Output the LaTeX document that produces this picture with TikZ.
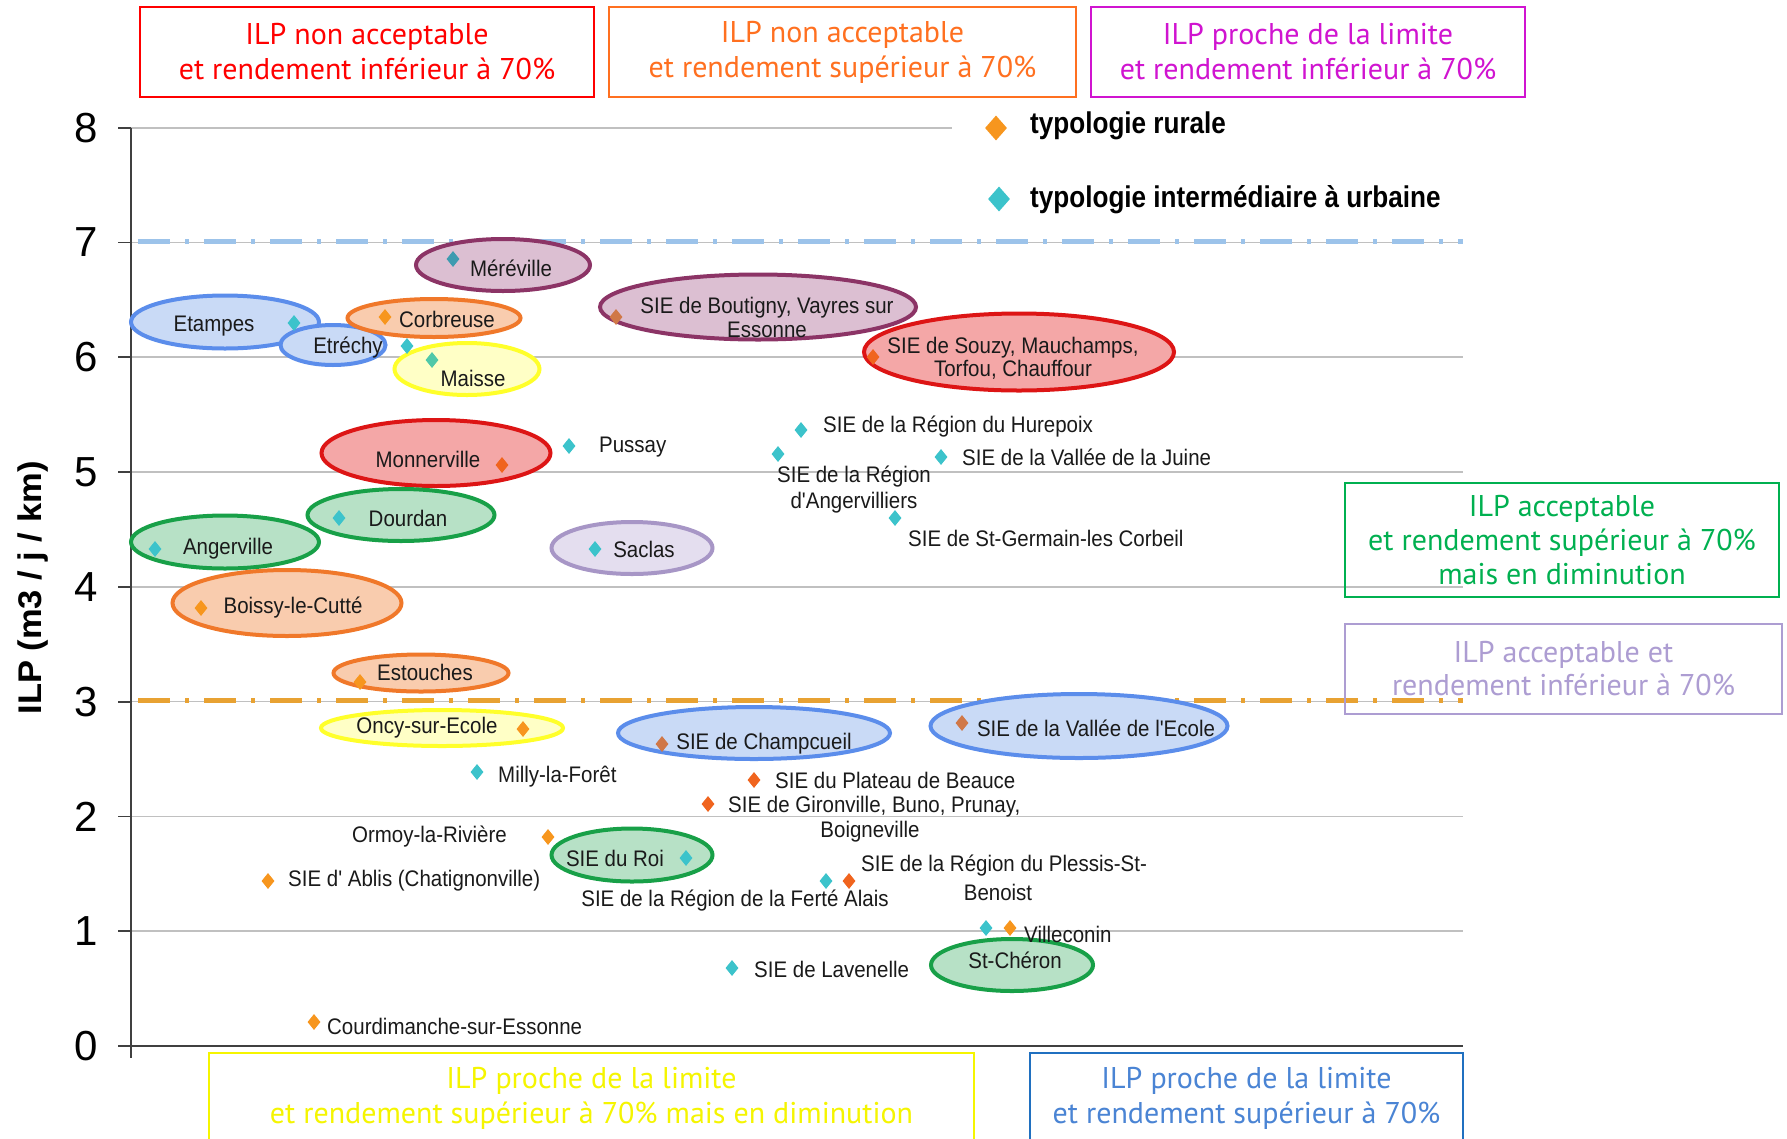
\documentclass[tikz,border=0pt]{standalone}
\usepackage{fontspec}
\setmainfont{Liberation Sans}
\newfontfamily\boxfont{PT Sans}
\newfontfamily\labfont{Liberation Sans}[FakeStretch=0.91]
\newfontfamily\legfont{Liberation Sans}[FakeStretch=0.87]
\usetikzlibrary{shapes.geometric}
\definecolor{gridc}{HTML}{C0C0C0}
\definecolor{axisc}{HTML}{404040}
\definecolor{labc}{HTML}{1A1A1A}
\definecolor{limblue}{HTML}{9CC3EA}
\definecolor{limorange}{HTML}{E8A232}
\definecolor{cRed}{HTML}{FF0000}
\definecolor{cOrange}{HTML}{FF7020}
\definecolor{cMag}{HTML}{D014D0}
\definecolor{cGreen}{HTML}{00B050}
\definecolor{cLav}{HTML}{AD9DD2}
\definecolor{cYel}{HTML}{F5F500}
\definecolor{cBlueT}{HTML}{4A84D4}
\definecolor{cBlueB}{HTML}{2070C0}
\definecolor{eBlueD}{HTML}{5B8DEB}\definecolor{eBlueL}{HTML}{C9DAF6}
\definecolor{eGreenD}{HTML}{18A048}\definecolor{eGreenL}{HTML}{B7E1C6}
\definecolor{eOrD}{HTML}{F0782A}\definecolor{eOrL}{HTML}{F9CCAE}
\definecolor{eRedD}{HTML}{DD1515}\definecolor{eRedL}{HTML}{F4A7A7}
\definecolor{ePlumD}{HTML}{8C3466}\definecolor{ePlumL}{HTML}{DCBFD2}
\definecolor{eYelD}{HTML}{FFFF2A}\definecolor{eYelL}{HTML}{FFFFC6}
\definecolor{eLavD}{HTML}{A796C6}\definecolor{eLavL}{HTML}{E4DEEF}
\definecolor{rural}{HTML}{F7961E}
\definecolor{ruralD}{HTML}{F0641E}
\definecolor{ruralB}{HTML}{D07848}
\definecolor{urban}{HTML}{3CC3CB}
\definecolor{urbanD}{HTML}{3E9BB0}
\definecolor{urbanG}{HTML}{50C8A8}
\tikzset{
  grid/.style={draw=gridc, line width=1.5pt},
  axisline/.style={draw=axisc, line width=1.8pt},
  limline/.style={line width=5pt, dash pattern=on 32pt off 15pt on 4pt off 15pt},
  ticklab/.style={font=\fontsize{42}{42}\selectfont, text=black, inner sep=0},
  catbox/.style={draw, line width=2pt, inner sep=0, align=center, font=\boxfont\fontsize{30}{35}\selectfont},
  ell/.style={ellipse, line width=4pt, inner sep=0},
  eblue/.style={ell, draw=eBlueD, fill=eBlueL},
  egreen/.style={ell, draw=eGreenD, fill=eGreenL},
  eorange/.style={ell, draw=eOrD, fill=eOrL},
  ered/.style={ell, draw=eRedD, fill=eRedL},
  eplum/.style={ell, draw=ePlumD, fill=ePlumL},
  eyellow/.style={ell, draw=eYelD, fill=eYelL},
  elav/.style={ell, draw=eLavD, fill=eLavL},
  dmd/.style={diamond, inner sep=0, minimum width=13pt, minimum height=16pt, draw=none},
  rur/.style={dmd, fill=rural},
  rurD/.style={dmd, fill=ruralD},
  rurB/.style={dmd, fill=ruralB},
  urb/.style={dmd, fill=urban},
  urbD/.style={dmd, fill=urbanD},
  urbG/.style={dmd, fill=urbanG},
  lab/.style={font=\labfont\fontsize{22.5}{24}\selectfont, text=labc, inner sep=0, align=center},
  leg/.style={font=\legfont\bfseries\fontsize{30}{30}\selectfont, text=black, inner sep=0},
}
\begin{document}
\begin{tikzpicture}[x=1pt,y=-1pt]
\clip (0,0) rectangle (1787,1138);
\fill[white] (0,0) rectangle (1787,1138);
% grid
\foreach \v in {1,2,3,4,5,6,7}
  \draw[grid] (131,{1046-114.8*\v}) -- (1463,{1046-114.8*\v});
\draw[grid] (131,128) -- (952,128);
% limit lines
\draw[limline, draw=limblue] (138,241.5) -- (1463,241.5);
\draw[limline, draw=limorange] (138,700) -- (1463,700);
% axes
\foreach \v in {0,...,8}
  \draw[axisline] (118,{1046-114.8*\v}) -- (131,{1046-114.8*\v});
\draw[axisline] (131,128) -- (131,1058);
\draw[axisline] (118,1046) -- (1463,1046);
\foreach \v in {0,...,8}
  \node[ticklab] (t\v) at (86,{1046-114.8*\v}) {\v};
\node[font=\bfseries\fontsize{34.5}{34.5}\selectfont, rotate=90, inner sep=0] (ytitle) at (33,588) {\scalebox{1}[0.95]{ILP (m3 / j / km)}};

% category boxes
\node[catbox, draw=cRed, text=cRed, minimum width=454pt, minimum height=90pt] (bRed) at (367,52) {ILP non acceptable\\et rendement inférieur à 70\%};
\node[catbox, draw=cOrange, text=cOrange, minimum width=467pt, minimum height=90pt] (bOrange) at (842.5,52) {ILP non acceptable\\et rendement supérieur à 70\%};
\node[catbox, draw=cMag, text=cMag, minimum width=434pt, minimum height=90pt] (bMag) at (1308,52) {ILP proche de la limite\\et rendement inférieur à 70\%};
\node[catbox, draw=cGreen, text=cGreen, minimum width=434pt, minimum height=114pt, font=\boxfont\fontsize{30}{34}\selectfont] (bGreen) at (1562,540) {\rule{0pt}{4pt}ILP acceptable\\et rendement supérieur à 70\%\\mais en diminution};
\node[catbox, draw=cLav, text=cLav, minimum width=437pt, minimum height=90pt, font=\boxfont\fontsize{30}{33}\selectfont] (bLav) at (1563.5,669) {ILP acceptable et\\rendement inférieur à 70\%};
\node[catbox, draw=cYel, text=cYel, minimum width=765pt, minimum height=90pt] (bYel) at (591.5,1098) {ILP proche de la limite\\et rendement supérieur à 70\% mais en diminution};
\node[catbox, draw=cBlueB, text=cBlueT, minimum width=433pt, minimum height=90pt] (bBlue) at (1246.5,1098) {ILP proche de la limite\\et rendement supérieur à 70\%};

% legend
\node[rur, minimum width=22pt, minimum height=25pt] (lgR) at (996,128) {};
\node[urb, minimum width=22pt, minimum height=25pt] (lgU) at (999,199) {};
\node[leg, anchor=west] (lgRt) at (1030,126) {typologie rurale};
\node[leg, anchor=west] (lgUt) at (1030,200) {typologie intermédiaire à urbaine};

% ellipses
\node[eplum, minimum width=174pt, minimum height=52pt] (eMer) at (503,265) {};
\node[eblue, minimum width=188pt, minimum height=53pt] (eEta) at (225,322) {};
\node[eblue, minimum width=105pt, minimum height=40pt] (eEtr) at (333,345) {};
\node[eorange, minimum width=173pt, minimum height=38pt] (eCor) at (434,318) {};
\node[eyellow, minimum width=145pt, minimum height=52pt] (eMai) at (467,369) {};
\node[eplum, minimum width=316pt, minimum height=65pt] (eBou) at (758,307) {};
\node[ered, minimum width=310pt, minimum height=77pt] (eSou) at (1019,352) {};
\node[ered, minimum width=229pt, minimum height=66pt] (eMon) at (436,453) {};
\node[egreen, minimum width=187pt, minimum height=52pt] (eDou) at (401,515) {};
\node[egreen, minimum width=188pt, minimum height=53pt] (eAng) at (225,542) {};
\node[elav, minimum width=161pt, minimum height=52pt] (eSac) at (632,548) {};
\node[eorange, minimum width=229pt, minimum height=66pt] (eBoi) at (287,603) {};
\node[eorange, minimum width=175pt, minimum height=37pt] (eEst) at (421,673) {};
\node[eyellow, minimum width=242pt, minimum height=36pt] (eOnc) at (442,728) {};
\node[eblue, minimum width=272pt, minimum height=52pt] (eCha) at (754,733) {};
\node[eblue, minimum width=297pt, minimum height=64pt] (eVal) at (1079,726) {};
\node[egreen, minimum width=161pt, minimum height=53pt] (eRoi) at (632,855) {};
\node[egreen, minimum width=162pt, minimum height=52pt] (eChe) at (1012,965) {};

% labels
\node[lab] (lMer) at (511,268) {Méréville};
\node[lab] (lEta) at (214,326) {Etampes};
\node[lab] (lEtr) at (348,348) {Etréchy};
\node[lab] (lCor) at (447,319) {Corbreuse};
\node[lab] (lMai) at (473,378) {Maisse};
\node[lab, font=\labfont\fontsize{22.5}{24}\selectfont] (lBou) at (767,317) {SIE de Boutigny, Vayres sur\\Essonne};
\node[lab, font=\labfont\fontsize{22.5}{23}\selectfont] (lSou) at (1013,358.5) {SIE de Souzy, Mauchamps,\\Torfou, Chauffour};
\node[lab] (lMon) at (428,459) {Monnerville};
\node[lab, anchor=west] (lPus) at (599,447) {Pussay};
\node[lab] (lDou) at (408,518) {Dourdan};
\node[lab] (lAng) at (228,549) {Angerville};
\node[lab] (lSac) at (644,549) {Saclas};
\node[lab] (lBoi) at (293,608) {Boissy-le-Cutté};
\node[lab] (lEst) at (425,672) {Estouches};
\node[lab] (lOnc) at (427,728) {Oncy-sur-Ecole};
\node[lab] (lCha) at (764,744) {SIE de Champcueil};
\node[lab] (lVal) at (1096,728) {SIE de la Vallée de l'Ecole};
\node[lab, anchor=west] (lHur) at (823,427) {SIE de la Région du Hurepoix};
\node[lab, anchor=west] (lJui) at (962,457) {SIE de la Vallée de la Juine};
\node[lab, font=\labfont\fontsize{22.5}{26}\selectfont] (lAgv) at (854,490) {SIE de la Région\\d'Angervilliers};
\node[lab, anchor=west] (lStG) at (908,538) {SIE de St-Germain-les Corbeil};
\node[lab, anchor=west] (lMil) at (498,777) {Milly-la-Forêt};
\node[lab, anchor=west] (lPla) at (775,780) {SIE du Plateau de Beauce};
\node[lab, anchor=west] (lGirA) at (728,807) {SIE de Gironville, Buno, Prunay,};
\node[lab] (lGirB) at (870,832) {Boigneville};
\node[lab, anchor=east] (lOrm) at (507,837) {Ormoy-la-Rivière};
\node[lab] (lRoi) at (615,858) {SIE du Roi};
\node[lab, anchor=west] (lAbl) at (288,881) {SIE d' Ablis (Chatignonville)};
\node[lab] (lFer) at (735,901) {SIE de la Région de la Ferté Alais};
\node[lab, anchor=west] (lPleA) at (861,866) {SIE de la Région du Plessis-St-};
\node[lab] (lPleB) at (998,892) {Benoist};
\node[lab, anchor=west] (lVil) at (1024,934) {Villeconin};
\node[lab] (lChe) at (1015,960) {St-Chéron};
\node[lab, anchor=west] (lLav) at (754,969) {SIE de Lavenelle};
\node[lab, anchor=west] (lCou) at (327,1026) {Courdimanche-sur-Essonne};

% data points
\node[urbD] (pMer) at (453,259) {};
\node[urb] (pEta) at (294,323) {};
\node[urb] (pEtr) at (407,346) {};
\node[rur] (pCor) at (385,317) {};
\node[urbG] (pMai) at (432,360) {};
\node[rurB] (pBou) at (616,317) {};
\node[rurD] (pSou) at (873,357) {};
\node[rurD] (pMon) at (502,465) {};
\node[urb] (pPus) at (569,446) {};
\node[urb] (pDou) at (339,518) {};
\node[urb] (pAng) at (155,549) {};
\node[urb] (pSac) at (595,549) {};
\node[rur] (pBoi) at (201,608) {};
\node[rur] (pEst) at (360,682) {};
\node[rur] (pOnc) at (523,729) {};
\node[rurB] (pCha) at (662,744) {};
\node[rurB] (pVal) at (962,723) {};
\node[urb] (pHur) at (801,430) {};
\node[urb] (pAgv) at (778,454) {};
\node[urb] (pJui) at (941,457) {};
\node[urb] (pStG) at (895,518) {};
\node[urb] (pMil) at (477,772) {};
\node[rurD] (pPla) at (754,780) {};
\node[rurD] (pGir) at (708,804) {};
\node[rur] (pOrm) at (548,837) {};
\node[urb] (pRoi) at (686,858) {};
\node[rur] (pAbl) at (268,881) {};
\node[urb] (pFer) at (826,881) {};
\node[rurD] (pPle) at (849,881) {};
\node[urb] (pChe) at (986,928) {};
\node[rur] (pVil) at (1010,928) {};
\node[urb] (pLav) at (732,968) {};
\node[rur] (pCou) at (314,1022) {};
\end{tikzpicture}
\end{document}
